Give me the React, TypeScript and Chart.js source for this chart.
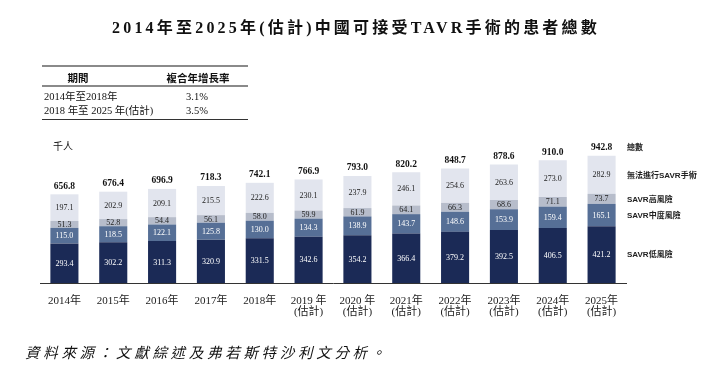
import React, { useEffect, useRef } from "react";
import { Chart, registerables } from "chart.js";

Chart.register(...registerables);

const titleText = "2014年至2025年(估計)中國可接受TAVR手術的患者總數";
const unitText = "千人";
const sourceText = "資料來源：文獻綜述及弗若斯特沙利文分析。";

const cagrHeader = ["期間", "複合年增長率"];
const cagrPeriods = ["2014年至2018年", "2018 年至 2025 年(估計)"];
const cagrRates = ["3.1%", "3.5%"];

const years: (string | string[])[] = [
  "2014年",
  "2015年",
  "2016年",
  "2017年",
  "2018年",
  ["2019 年", "(估計)"],
  ["2020 年", "(估計)"],
  ["2021年", "(估計)"],
  ["2022年", "(估計)"],
  ["2023年", "(估計)"],
  ["2024年", "(估計)"],
  ["2025年", "(估計)"],
];

const lowRisk = [293.4, 302.2, 311.3, 320.9, 331.5, 342.6, 354.2, 366.4, 379.2, 392.5, 406.5, 421.2];
const midRisk = [115.0, 118.5, 122.1, 125.8, 130.0, 134.3, 138.9, 143.7, 148.6, 153.9, 159.4, 165.1];
const highRisk = [51.3, 52.8, 54.4, 56.1, 58.0, 59.9, 61.9, 64.1, 66.3, 68.6, 71.1, 73.7];
const inoperable = [197.1, 202.9, 209.1, 215.5, 222.6, 230.1, 237.9, 246.1, 254.6, 263.6, 273.0, 282.9];
const totals = [656.8, 676.4, 696.9, 718.3, 742.1, 766.9, 793.0, 820.2, 848.7, 878.6, 910.0, 942.8];

const seriesNames = ["SAVR低風險", "SAVR中度風險", "SAVR高風險", "無法進行SAVR手術"];
const totalName = "總數";

const seriesColors = ["#1b2a56", "#566f96", "#b7bdcb", "#e2e5ee"];
const labelColors = ["#ffffff", "#ffffff", "#222222", "#222222"];

const SERIF = "'Liberation Serif', 'Noto Sans CJK TC', serif";
const SANS = "'Liberation Sans', 'Noto Sans CJK TC', sans-serif";

const labelPlugin = {
  id: "segLabels",
  afterDatasetsDraw(chart: any) {
    const ctx = chart.ctx;
    const n = chart.data.datasets.length;
    ctx.save();
    ctx.textAlign = "center";
    ctx.textBaseline = "middle";
    for (let d = 0; d < n; d++) {
      const meta = chart.getDatasetMeta(d);
      const vals = chart.data.datasets[d].data as number[];
      meta.data.forEach((bar: any, i: number) => {
        const cy = (bar.y + bar.base) / 2;
        ctx.font = `8px ${SERIF}`;
        ctx.fillStyle = labelColors[d];
        ctx.fillText(vals[i].toFixed(1), bar.x, cy + 0.5);
      });
    }
    // totals
    const topMeta = chart.getDatasetMeta(n - 1);
    ctx.font = `bold 9.5px ${SERIF}`;
    ctx.fillStyle = "#111";
    topMeta.data.forEach((bar: any, i: number) => {
      ctx.fillText(totals[i].toFixed(1), bar.x, bar.y - 8);
    });
    // right-side legend
    const last = years.length - 1;
    const lx = chart.chartArea.right + 1;
    ctx.textAlign = "left";
    ctx.font = `bold 8px ${SANS}`;
    ctx.fillStyle = "#222";
    for (let d = 0; d < n; d++) {
      const bar: any = chart.getDatasetMeta(d).data[last];
      ctx.fillText(seriesNames[d], lx, (bar.y + bar.base) / 2 + 0.5);
    }
    const tb: any = topMeta.data[last];
    ctx.fillText(totalName, lx, tb.y - 8);
    ctx.restore();
  },
};

export default function App() {
  const ref = useRef<HTMLCanvasElement | null>(null);
  useEffect(() => {
    if (!ref.current) return;
    const datasets = [lowRisk, midRisk, highRisk, inoperable].map((data, i) => ({
      label: seriesNames[i],
      data,
      backgroundColor: seriesColors[i],
      borderWidth: 0,
      barPercentage: 0.575,
      categoryPercentage: 1,
    }));
    const chart = new Chart(ref.current, {
      type: "bar",
      data: { labels: years, datasets },
      plugins: [labelPlugin],
      options: {
        responsive: false,
        animation: false,
        layout: { padding: { left: 40, right: 86, top: 148, bottom: 47 } },
        plugins: { legend: { display: false }, tooltip: { enabled: false } },
        scales: {
          x: {
            stacked: true,
            grid: { display: false, drawTicks: false },
            border: { display: true, color: "#333", width: 1 },
            ticks: {
              color: "#222",
              padding: 12,
              maxRotation: 0,
              autoSkip: false,
              font: { family: SERIF, size: 11, lineHeight: 1.06 },
            },
            afterFit: (s: any) => {
              s.height = 40;
            },
          },
          y: {
            stacked: true,
            display: false,
            min: 0,
            max: 1000,
          },
        },
      },
    });
    return () => chart.destroy();
  }, []);

  const abs = (extra: React.CSSProperties): React.CSSProperties => ({
    position: "absolute",
    whiteSpace: "nowrap",
    ...extra,
  });

  return (
    <div
      style={{
        position: "fixed",
        left: 0,
        top: 0,
        width: 712,
        height: 370,
        background: "#fff",
        overflow: "hidden",
        color: "#111",
      }}
    >
      <canvas ref={ref} width={712} height={370} style={{ position: "absolute", left: 0, top: 0 }} />
      <div
        style={abs({
          left: 0,
          width: 712,
          top: 18,
          height: 20,
          lineHeight: "20px",
          textAlign: "center",
          fontFamily: SERIF,
          fontWeight: "bold",
          fontSize: 16,
          letterSpacing: 3.2,
        })}
      >
        {titleText}
      </div>
      {/* CAGR table */}
      <div style={abs({ left: 42, top: 65, width: 206, height: 2, background: "#8a8a8a" })} />
      <div style={abs({ left: 42, top: 85, width: 206, height: 1.5, background: "#8a8a8a" })} />
      <div style={abs({ left: 42, top: 118.5, width: 206, height: 1.5, background: "#333" })} />
      <div
        style={abs({
          left: 48,
          width: 60,
          top: 71,
          height: 14,
          lineHeight: "14px",
          textAlign: "center",
          fontFamily: SANS,
          fontWeight: "bold",
          fontSize: 10.5,
        })}
      >
        {cagrHeader[0]}
      </div>
      <div
        style={abs({
          left: 158,
          width: 80,
          top: 71,
          height: 14,
          lineHeight: "14px",
          textAlign: "center",
          fontFamily: SANS,
          fontWeight: "bold",
          fontSize: 10.5,
        })}
      >
        {cagrHeader[1]}
      </div>
      {cagrPeriods.map((p, i) => (
        <React.Fragment key={p}>
          <div
            style={abs({
              left: 44,
              top: 90 + i * 14,
              height: 14,
              lineHeight: "14px",
              fontFamily: SERIF,
              fontSize: 10.5,
            })}
          >
            {p}
          </div>
          <div
            style={abs({
              left: 167,
              width: 60,
              top: 90 + i * 14,
              height: 14,
              lineHeight: "14px",
              textAlign: "center",
              fontFamily: SERIF,
              fontSize: 10.5,
            })}
          >
            {cagrRates[i]}
          </div>
        </React.Fragment>
      ))}
      <div
        style={abs({
          left: 53,
          top: 140,
          height: 14,
          lineHeight: "14px",
          fontFamily: SERIF,
          fontSize: 10,
        })}
      >
        {unitText}
      </div>
      <div
        style={abs({
          left: 25,
          top: 344,
          height: 18,
          lineHeight: "18px",
          fontFamily: SERIF,
          fontStyle: "italic",
          fontSize: 14.5,
          letterSpacing: 3.7,
        })}
      >
        {sourceText}
      </div>
    </div>
  );
}
